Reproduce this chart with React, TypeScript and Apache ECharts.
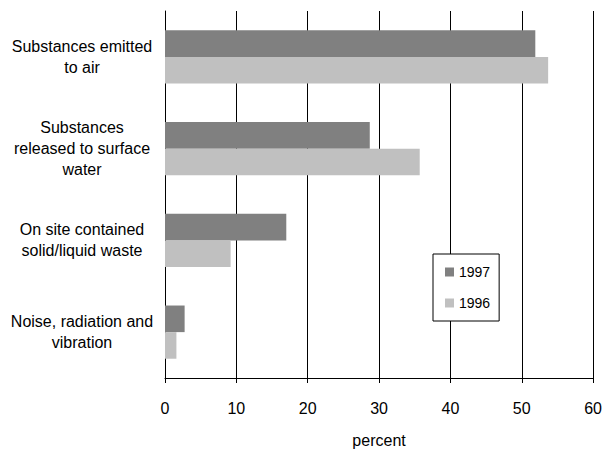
import React, { useEffect, useRef } from "react";
import * as echarts from "echarts";

const categories = [
  "Substances emitted\nto air",
  "Substances\nreleased to surface\nwater",
  "On site contained\nsolid/liquid waste",
  "Noise, radiation and\nvibration",
];
const values1997 = [51.9, 28.7, 17.0, 2.75];
const values1996 = [53.7, 35.7, 9.2, 1.6];
const seriesNames = ["1997", "1996"];
const xTicks = [0, 10, 20, 30, 40, 50, 60];

export default function App() {
  const ref = useRef<HTMLDivElement>(null);
  useEffect(() => {
    if (!ref.current) return;
    const chart = echarts.init(ref.current, undefined, { renderer: "svg" });
    const font = "'Liberation Sans', Arial, sans-serif";
    chart.setOption({
      animation: false,
      backgroundColor: "#fff",
      textStyle: { fontFamily: font, color: "#000" },
      grid: { left: 165, right: 9.5, top: 11, bottom: 70, containLabel: false },
      legend: {
        orient: "vertical",
        left: 433,
        top: 254,
        width: 66,
        padding: [11, 9, 11, 12],
        itemWidth: 9,
        itemHeight: 9,
        itemGap: 17,
        borderColor: "#000",
        borderWidth: 1,
        backgroundColor: "#fff",
        icon: "rect",
        data: seriesNames,
        textStyle: { fontSize: 14, color: "#000", fontFamily: font },
      },
      xAxis: {
        type: "value",
        min: xTicks[0],
        max: xTicks[xTicks.length - 1],
        interval: 10,
        name: "percent",
        nameLocation: "middle",
        nameGap: 54,
        nameTextStyle: { fontSize: 16, color: "#000", fontFamily: font },
        axisLine: { show: true, lineStyle: { color: "#000", width: 1 } },
        axisTick: { show: true, length: 5, lineStyle: { color: "#000" } },
        axisLabel: { fontSize: 16, color: "#000", margin: 22, fontFamily: font },
        splitLine: { show: true, lineStyle: { color: "#000", width: 1 } },
      },
      yAxis: {
        type: "category",
        data: categories,
        inverse: true,
        axisLine: { show: true, lineStyle: { color: "#000", width: 1 } },
        axisTick: { show: false },
        axisLabel: {
          fontSize: 16,
          color: "#000",
          align: "center",
          margin: 83,
          lineHeight: 21,
          fontFamily: font,
        },
        splitLine: { show: false },
      },
      series: [
        {
          name: seriesNames[0],
          type: "bar",
          data: values1997,
          itemStyle: { color: "#808080" },
          barGap: "0%",
          barCategoryGap: "42%",
        },
        {
          name: seriesNames[1],
          type: "bar",
          data: values1996,
          itemStyle: { color: "#c0c0c0" },
          barGap: "0%",
          barCategoryGap: "42%",
        },
      ],
    });
    return () => chart.dispose();
  }, []);
  return <div ref={ref} style={{ width: 605, height: 453, position: "absolute", left: 0, top: 0 }} />;
}
